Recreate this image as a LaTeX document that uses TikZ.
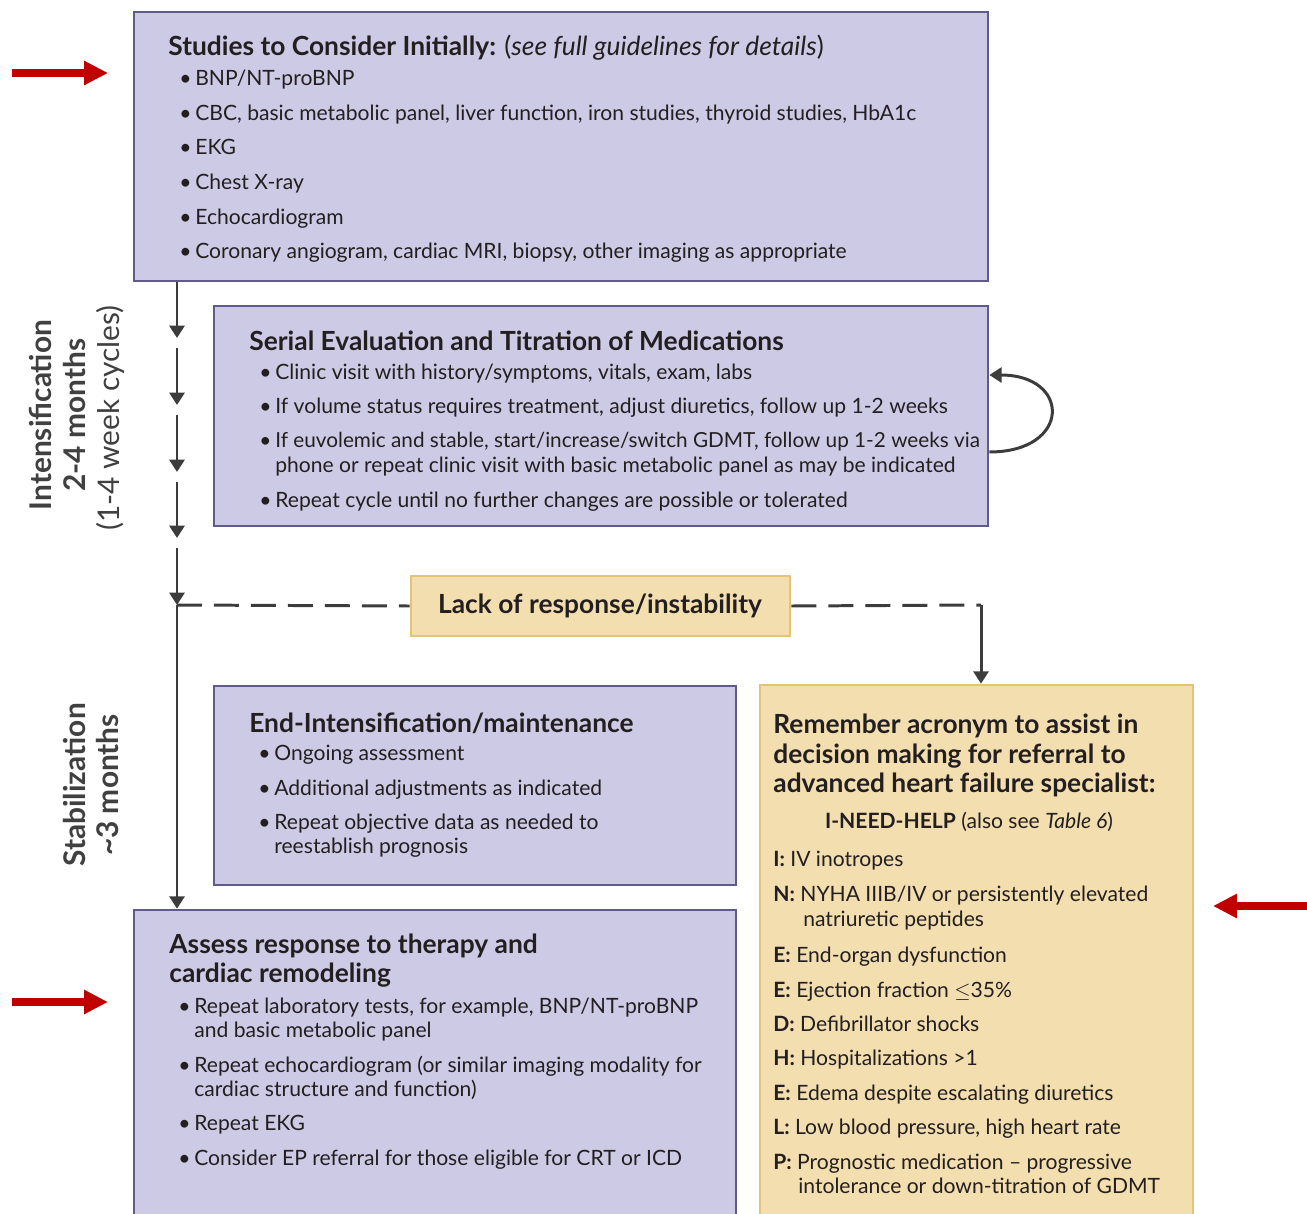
\documentclass[tikz,border=0pt]{standalone}
\usepackage{fontspec}
\setmainfont{Lato}
\usetikzlibrary{arrows.meta,fit}

\definecolor{boxfill}{HTML}{CDCAE5}
\definecolor{boxline}{HTML}{5F5A8A}
\definecolor{notefill}{HTML}{F3DEAF}
\definecolor{noteline}{HTML}{E3C472}
\definecolor{flowline}{HTML}{3C3C3C}
\definecolor{textdark}{HTML}{231F20}
\definecolor{sidegray}{HTML}{404040}
\definecolor{markred}{HTML}{C00000}

\newcommand{\headfont}{\fontsize{15}{17}\selectfont\bfseries}
\newcommand{\bodyfont}{\fontsize{12}{14}\selectfont}
\newcommand{\bul}{\makebox[0.32cm][l]{\textbullet}}

\tikzset{
  phase/.style={draw=boxline, fill=boxfill, line width=1.5pt, inner sep=0pt},
  note/.style={draw=noteline, fill=notefill, line width=1.5pt, inner sep=0pt},
  line/.style={anchor=base west, inner sep=0pt, font=\bodyfont, text=textdark},
  head/.style={anchor=base west, inner sep=0pt, font=\headfont, text=textdark},
  sidelab/.style={rotate=90, inner sep=0pt, text=sidegray},
  flow/.style={draw=flowline, line width=1.7pt, -{Triangle[length=7pt,width=8.5pt]}},
  dashflow/.style={draw=flowline, line width=1.7pt, dash pattern=on 0.5cm off 0.24cm},
  pointer/.style={draw=markred, line width=5pt, -{Triangle[length=13.6pt,width=13pt]}},
}

\begin{document}
\begin{tikzpicture}[x=0.02cm, y=-0.02cm]
    \clip (0,0) rectangle (1307,1213);

    % Boxes
    \node[phase, fit={(134,12) (988,281)}] (studies) {};
    \node[phase, fit={(214,306) (988,526)}] (serial) {};
    \node[note, fit={(411,576) (790,636)}] (lack) {};
    \node[phase, fit={(214,686) (736,885)}] (endint) {};
    \node[note, fit={(760,685) (1193,1240)}] (acronym) {};
    \node[phase, fit={(134,910) (736,1240)}] (assess) {};

    % Studies to consider initially
    \node[head] (studiestitle) at (168,56) {Studies to Consider Initially: \textnormal{(\textit{see full guidelines for details})}};
    \foreach \t [count=\i] in {BNP/NT-proBNP,
        {CBC, basic metabolic panel, liver function, iron studies, thyroid studies, HbA1c},
        EKG, Chest X-ray, Echocardiogram,
        {Coronary angiogram, cardiac MRI, biopsy, other imaging as appropriate}} {
        \node[line] (study\i) at (179, {86+34.5*(\i-1)}) {\bul\t};
    }

    % Serial evaluation
    \node[head] (serialtitle) at (249,350) {Serial Evaluation and Titration of Medications};
    \node[line] (serial1) at (259,379) {\bul Clinic visit with history/symptoms, vitals, exam, labs};
    \node[line] (serial2) at (259,413) {\bul If volume status requires treatment, adjust diuretics, follow up 1-2 weeks};
    \node[line, font=\fontsize{11.8}{14}\selectfont] (serial3) at (259,447) {\bul If euvolemic and stable, start/increase/switch GDMT, follow up 1-2 weeks via};
    \node[line] (serial3b) at (275,472) {phone or repeat clinic visit with basic metabolic panel as may be indicated};
    \node[line] (serial4) at (259,507) {\bul Repeat cycle until no further changes are possible or tolerated};

    % Lack of response
    \node[head, anchor=base] (lacktext) at (600,613) {Lack of response/instability};

    % End-intensification
    \node[head] (endtitle) at (249,732) {End-Intensification/maintenance};
    \node[line] (end1) at (258,760) {\bul Ongoing assessment};
    \node[line] (end2) at (258,795) {\bul Additional adjustments as indicated};
    \node[line] (end3) at (258,829) {\bul Repeat objective data as needed to};
    \node[line] (end3b) at (274,853) {reestablish prognosis};

    % Assess response
    \node[head] (assesstitle) at (169,953) {Assess response to therapy and};
    \node[head] (assesstitleb) at (169,982) {cardiac remodeling};
    \node[line] (assess1) at (178,1013) {\bul Repeat laboratory tests, for example, BNP/NT-proBNP};
    \node[line] (assess1b) at (194,1037) {and basic metabolic panel};
    \node[line] (assess2) at (178,1072) {\bul Repeat echocardiogram (or similar imaging modality for};
    \node[line] (assess2b) at (194,1096) {cardiac structure and function)};
    \node[line] (assess3) at (178,1130) {\bul Repeat EKG};
    \node[line] (assess4) at (178,1165) {\bul Consider EP referral for those eligible for CRT or ICD};

    % Acronym box
    \node[head] (acrtitle1) at (773,733) {Remember acronym to assist in};
    \node[head] (acrtitle2) at (773,763) {decision making for referral to};
    \node[head] (acrtitle3) at (773,792) {advanced heart failure specialist:};
    \node[line, anchor=base] (acrname) at (969,828) {\textbf{I-NEED-HELP} (also see \textit{Table 6})};
    \node[line] (acr1) at (773,866) {\textbf{I:} IV inotropes};
    \node[line] (acr2) at (773,901) {\textbf{N:} NYHA IIIB/IV or persistently elevated};
    \node[line] (acr2b) at (803,926) {natriuretic peptides};
    \node[line] (acr3) at (773,962) {\textbf{E:} End-organ dysfunction};
    \node[line] (acr4) at (773,997) {\textbf{E:} Ejection fraction $\le$35\%};
    \node[line] (acr5) at (773,1031) {\textbf{D:} Defibrillator shocks};
    \node[line] (acr6) at (773,1065) {\textbf{H:} Hospitalizations >1};
    \node[line] (acr7) at (773,1100) {\textbf{E:} Edema despite escalating diuretics};
    \node[line] (acr8) at (773,1134) {\textbf{L:} Low blood pressure, high heart rate};
    \node[line] (acr9) at (773,1169) {\textbf{P:} Prognostic medication -- progressive};
    \node[line] (acr9b) at (798,1193) {intolerance or down-titration of GDMT};

    % Side labels
    \node[sidelab, font=\fontsize{17}{19}\selectfont\bfseries] (intlab) at (40,415) {Intensification};
    \node[sidelab, font=\fontsize{17}{19}\selectfont\bfseries] (intlen) at (75,415) {2-4 months};
    \node[sidelab, font=\fontsize{17}{19}\selectfont] (intcyc) at (110,418) {(1-4 week cycles)};
    \node[sidelab, font=\fontsize{17}{19}\selectfont\bfseries] (stablab) at (75,785) {Stabilization};
    \node[sidelab, font=\fontsize{17}{19}\selectfont\bfseries] (stablen) at (108,785) {\textasciitilde3 months};

    % Cycle arrows down the left
    \coordinate (h0) at (177,338);
    \draw[flow] (studies.south -| h0) -- (h0);
    \foreach \i/\a/\b in {1/348/405, 2/415/472, 3/482/538} {
        \coordinate (t\i) at (177,\a);
        \coordinate (h\i) at (177,\b);
        \draw[flow] (t\i) -- (h\i);
    }
    \coordinate (t4) at (177,548);
    \coordinate (split) at (177,605);
    \draw[flow] (t4) -- (split);
    \draw[flow] (split) -- (assess.north -| split);

    % Repeat loop on serial box
    \draw[flow] ([yshift=-0.72cm]serial.east) .. controls +(82,0) and +(82,0) .. ([yshift=0.82cm]serial.east);

    % Lack of response branch
    \coordinate (corner) at (981,605);
    \draw[dashflow] (split) -- (lack.west);
    \draw[dashflow] (lack.east) -- (corner);
    \draw[flow] (corner) -- (acronym.north -| corner);

    % Red markers
    \coordinate (mark1s) at (12,73);
    \coordinate (mark1e) at (108,73);
    \coordinate (mark2s) at (12,1002);
    \coordinate (mark2e) at (108,1002);
    \coordinate (mark3s) at (1307,906);
    \coordinate (mark3e) at (1213,906);
    \draw[pointer] (mark1s) -- (mark1e);
    \draw[pointer] (mark2s) -- (mark2e);
    \draw[pointer] (mark3s) -- (mark3e);
\end{tikzpicture}
\end{document}
